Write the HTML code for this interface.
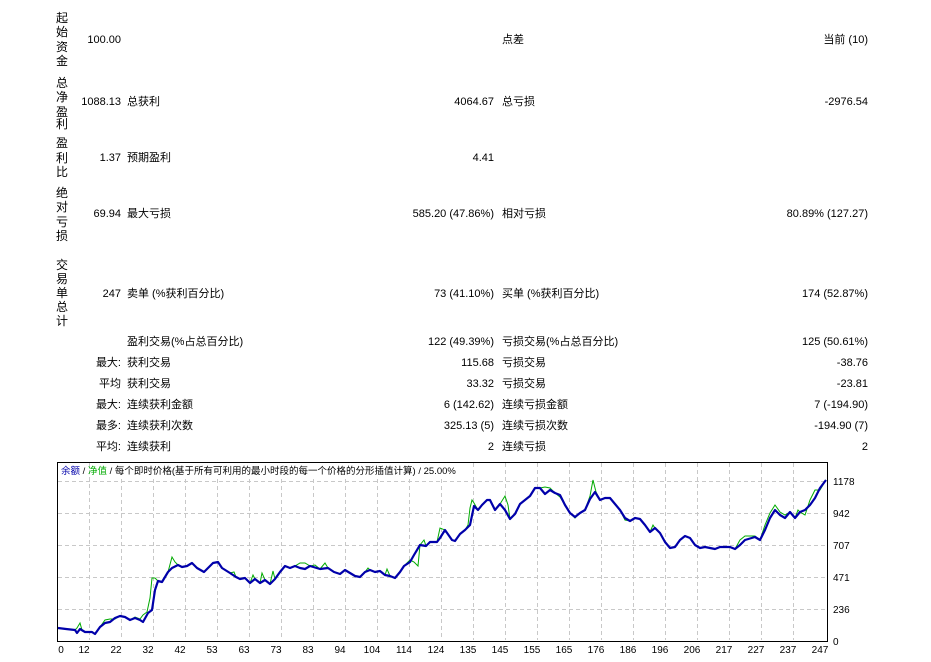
<!DOCTYPE html>
<html><head><meta charset="utf-8"><style>
body{margin:0;width:931px;height:662px;background:#fff;position:relative;overflow:hidden;font-family:"Liberation Sans","Noto Sans CJK SC",sans-serif;font-size:11px;color:#000}
.t{position:absolute;white-space:nowrap;line-height:12px}
.r{text-align:right}
.v{position:absolute;left:56px;width:12px;text-align:center;font-size:12px;line-height:12px}
</style></head><body>
<div class="v" style="top:12px">起</div><div class="v" style="top:26px">始</div><div class="v" style="top:41px">资</div><div class="v" style="top:55px">金</div>
<div class="v" style="top:77px">总</div><div class="v" style="top:91px">净</div><div class="v" style="top:106px">盈</div><div class="v" style="top:118px">利</div>
<div class="v" style="top:137px">盈</div><div class="v" style="top:152px">利</div><div class="v" style="top:166px">比</div>
<div class="v" style="top:187px">绝</div><div class="v" style="top:201px">对</div><div class="v" style="top:216px">亏</div><div class="v" style="top:230px">损</div>
<div class="v" style="top:259px">交</div><div class="v" style="top:273px">易</div><div class="v" style="top:287px">单</div><div class="v" style="top:301px">总</div><div class="v" style="top:315px">计</div>

<div class="t r" style="right:810px;top:34px">100.00</div>
<div class="t" style="left:502px;top:34px">点差</div>
<div class="t r" style="right:63px;top:34px">当前 (10)</div>

<div class="t r" style="right:810px;top:96px">1088.13</div>
<div class="t" style="left:127px;top:96px">总获利</div>
<div class="t r" style="right:437px;top:96px">4064.67</div>
<div class="t" style="left:502px;top:96px">总亏损</div>
<div class="t r" style="right:63px;top:96px">-2976.54</div>

<div class="t r" style="right:810px;top:152px">1.37</div>
<div class="t" style="left:127px;top:152px">预期盈利</div>
<div class="t r" style="right:437px;top:152px">4.41</div>

<div class="t r" style="right:810px;top:208px">69.94</div>
<div class="t" style="left:127px;top:208px">最大亏损</div>
<div class="t r" style="right:437px;top:208px">585.20 (47.86%)</div>
<div class="t" style="left:502px;top:208px">相对亏损</div>
<div class="t r" style="right:63px;top:208px">80.89% (127.27)</div>

<div class="t r" style="right:810px;top:288px">247</div>
<div class="t" style="left:127px;top:288px">卖单 (%获利百分比)</div>
<div class="t r" style="right:437px;top:288px">73 (41.10%)</div>
<div class="t" style="left:502px;top:288px">买单 (%获利百分比)</div>
<div class="t r" style="right:63px;top:288px">174 (52.87%)</div>

<div class="t" style="left:127px;top:336px">盈利交易(%占总百分比)</div>
<div class="t r" style="right:437px;top:336px">122 (49.39%)</div>
<div class="t" style="left:502px;top:336px">亏损交易(%占总百分比)</div>
<div class="t r" style="right:63px;top:336px">125 (50.61%)</div>

<div class="t r" style="right:810px;top:357px">最大:</div>
<div class="t" style="left:127px;top:357px">获利交易</div>
<div class="t r" style="right:437px;top:357px">115.68</div>
<div class="t" style="left:502px;top:357px">亏损交易</div>
<div class="t r" style="right:63px;top:357px">-38.76</div>

<div class="t r" style="right:810px;top:378px">平均</div>
<div class="t" style="left:127px;top:378px">获利交易</div>
<div class="t r" style="right:437px;top:378px">33.32</div>
<div class="t" style="left:502px;top:378px">亏损交易</div>
<div class="t r" style="right:63px;top:378px">-23.81</div>

<div class="t r" style="right:810px;top:399px">最大:</div>
<div class="t" style="left:127px;top:399px">连续获利金额</div>
<div class="t r" style="right:437px;top:399px">6 (142.62)</div>
<div class="t" style="left:502px;top:399px">连续亏损金额</div>
<div class="t r" style="right:63px;top:399px">7 (-194.90)</div>

<div class="t r" style="right:810px;top:420px">最多:</div>
<div class="t" style="left:127px;top:420px">连续获利次数</div>
<div class="t r" style="right:437px;top:420px">325.13 (5)</div>
<div class="t" style="left:502px;top:420px">连续亏损次数</div>
<div class="t r" style="right:63px;top:420px">-194.90 (7)</div>

<div class="t r" style="right:810px;top:441px">平均:</div>
<div class="t" style="left:127px;top:441px">连续获利</div>
<div class="t r" style="right:437px;top:441px">2</div>
<div class="t" style="left:502px;top:441px">连续亏损</div>
<div class="t r" style="right:63px;top:441px">2</div>

<svg style="position:absolute;left:0;top:0" width="931" height="662">
<g stroke="#c8c8c8" stroke-dasharray="4,3" stroke-width="1">
<line x1="58" x2="827" y1="481.5" y2="481.5"/><line x1="58" x2="827" y1="513.5" y2="513.5"/><line x1="58" x2="827" y1="545.5" y2="545.5"/><line x1="58" x2="827" y1="577.5" y2="577.5"/><line x1="58" x2="827" y1="609.5" y2="609.5"/>
<line x1="89.5" x2="89.5" y1="463" y2="640"/><line x1="121.5" x2="121.5" y1="479" y2="640"/><line x1="153.5" x2="153.5" y1="479" y2="640"/><line x1="185.5" x2="185.5" y1="479" y2="640"/><line x1="217.5" x2="217.5" y1="479" y2="640"/><line x1="249.5" x2="249.5" y1="479" y2="640"/><line x1="281.5" x2="281.5" y1="479" y2="640"/><line x1="313.5" x2="313.5" y1="479" y2="640"/><line x1="345.5" x2="345.5" y1="479" y2="640"/><line x1="377.5" x2="377.5" y1="479" y2="640"/><line x1="409.5" x2="409.5" y1="479" y2="640"/><line x1="441.5" x2="441.5" y1="479" y2="640"/><line x1="473.5" x2="473.5" y1="463" y2="640"/><line x1="505.5" x2="505.5" y1="463" y2="640"/><line x1="537.5" x2="537.5" y1="463" y2="640"/><line x1="569.5" x2="569.5" y1="463" y2="640"/><line x1="601.5" x2="601.5" y1="463" y2="640"/><line x1="633.5" x2="633.5" y1="463" y2="640"/><line x1="665.5" x2="665.5" y1="463" y2="640"/><line x1="697.5" x2="697.5" y1="463" y2="640"/><line x1="729.5" x2="729.5" y1="463" y2="640"/><line x1="761.5" x2="761.5" y1="463" y2="640"/><line x1="793.5" x2="793.5" y1="463" y2="640"/>
</g>
<rect x="57.5" y="462.5" width="770" height="179" fill="none" stroke="#000"/>
<polyline fill="none" stroke="#00aa00" stroke-width="1" points="58,628 66,629 75,630 77,628 80,623 82,630 85,632 92,632 95,634 100,627 105,620 110,619 115,619 120,616 125,617 130,620 135,617 140,619 143,615 147,612 150,598 152,578 155,578 158,581 162,582 168,572 172,557 175,562 178,565 182,567 187,566 192,563 197,568 204,572 208,568 213,563 218,562 222,568 230,573 234,572 236,577 240,579 245,578 250,583 253,575 255,579 260,583 262,573 265,580 270,584 273,571 275,579 280,572 285,566 290,568 295,566 300,563 305,563 310,566 315,565 320,569 325,563 328,568 334,572 340,574 345,570 350,573 355,576 360,577 365,572 368,568 370,570 375,572 380,571 385,575 387,569 390,576 395,578 400,572 404,566 410,560 414,562 418,566 420,545 424,540 426,546 430,542 437,542 440,528 445,530 452,540 455,541 460,534 465,530 468,525 470,508 472,500 474,503 478,510 482,505 487,500 490,500 495,510 500,504 505,496 508,505 510,519 515,514 520,504 525,500 530,496 535,488 540,488 545,487 550,488 555,493 560,497 565,505 570,513 575,518 580,513 585,510 590,496 593,480 596,492 600,500 605,498 610,498 615,504 620,510 625,520 630,521 635,518 640,519 645,525 650,532 653,525 655,528 660,533 665,542 670,548 675,547 680,540 685,536 690,538 695,545 700,548 705,547 710,548 715,549 720,547 730,547 735,549 740,540 745,536 755,536 760,540 765,525 770,513 775,505 780,512 785,515 790,512 795,518 798,510 800,512 805,515 810,500 815,490 820,490 826,480"/>
<polyline fill="none" stroke="#0000aa" stroke-width="2.2" stroke-linejoin="round" points="58,628 66,629 75,630 77,633 80,629 85,632 92,632 95,634 100,627 105,623 110,622 115,618 120,616 125,617 130,620 135,618 140,620 143,622 148,613 152,610 155,590 158,581 162,582 168,572 172,568 178,565 182,567 187,566 192,563 197,568 204,572 208,568 213,563 218,562 222,568 230,573 236,577 240,579 245,578 250,583 255,579 260,583 265,580 270,584 275,579 280,572 285,566 290,568 295,566 300,568 305,569 310,566 320,569 328,568 334,572 340,574 345,570 350,573 355,576 360,577 365,572 370,570 375,572 380,571 385,575 390,576 395,578 400,572 404,566 410,562 414,555 420,545 426,546 430,542 437,542 440,538 445,530 452,540 455,541 460,534 465,530 470,525 474,506 478,510 482,505 487,500 490,500 495,510 500,504 505,510 510,519 515,514 520,504 525,500 530,496 535,488 540,488 545,494 550,490 555,493 560,495 565,505 570,513 575,517 580,513 585,510 590,499 595,492 600,500 605,498 610,498 615,504 620,510 625,518 630,521 635,518 640,519 645,525 650,532 655,528 660,533 665,542 670,548 675,547 680,540 685,536 690,538 695,545 700,548 705,547 710,548 715,549 720,547 730,547 735,549 740,545 745,540 755,537 760,540 765,530 770,518 775,510 780,515 785,518 790,512 795,518 800,512 805,510 810,505 815,498 820,488 826,480"/>
<g font-family="Liberation Sans, sans-serif" font-size="10" fill="#000">
<text x="833" y="485">1178</text><text x="833" y="517">942</text><text x="833" y="549">707</text><text x="833" y="581">471</text><text x="833" y="613">236</text><text x="833" y="645">0</text>
<g text-anchor="middle">
<text x="61" y="653">0</text><text x="84" y="653">12</text><text x="116" y="653">22</text><text x="148" y="653">32</text><text x="180" y="653">42</text><text x="212" y="653">53</text><text x="244" y="653">63</text><text x="276" y="653">73</text><text x="308" y="653">83</text><text x="340" y="653">94</text><text x="372" y="653">104</text><text x="404" y="653">114</text><text x="436" y="653">124</text><text x="468" y="653">135</text><text x="500" y="653">145</text><text x="532" y="653">155</text><text x="564" y="653">165</text><text x="596" y="653">176</text><text x="628" y="653">186</text><text x="660" y="653">196</text><text x="692" y="653">206</text><text x="724" y="653">217</text><text x="756" y="653">227</text><text x="788" y="653">237</text><text x="820" y="653">247</text>
</g>
<text x="61" y="474" font-family="Liberation Sans, Noto Sans CJK SC, sans-serif" font-size="9.5"><tspan fill="#0000aa">余额</tspan> / <tspan fill="#00aa00">净值</tspan> / 每个即时价格(基于所有可利用的最小时段的每一个价格的分形插值计算) / 25.00%</text>
</g>
</svg>
</body></html>
